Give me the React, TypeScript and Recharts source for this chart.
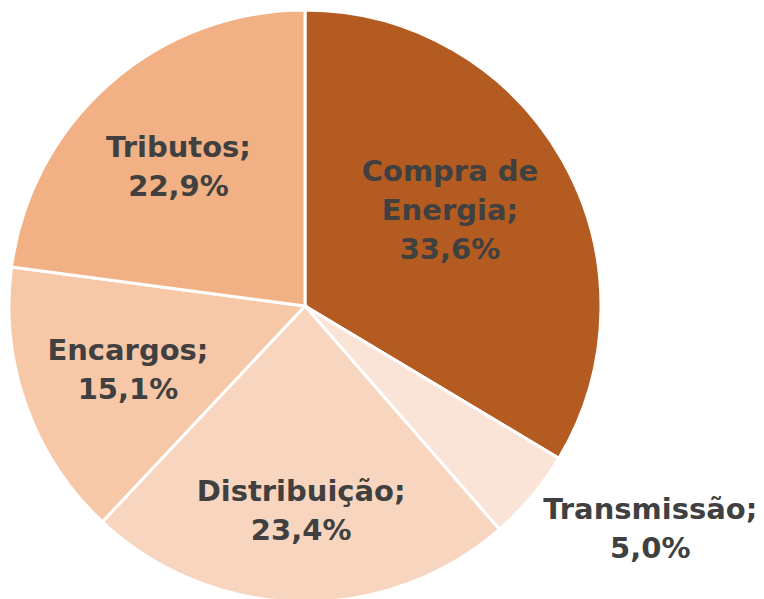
import React from 'react';
import { PieChart, Pie, Cell } from 'recharts';

const categories = ['Compra de Energia', 'Transmissão', 'Distribuição', 'Encargos', 'Tributos'];
const shares = [33.6, 5.0, 23.4, 15.1, 22.9];

const COLORS = ['#B35B21', '#FAE4D7', '#F8D5BE', '#F6C8A8', '#F2B085'];
const LABEL_RADIUS = [0.59, 1.2, 0.69, 0.635, 0.633];
const LABEL_SHIFT: Record<number, [number, number]> = { 0: [-7, -10], 1: [73, -6], 4: [-3, 1] };
const RADIAN = Math.PI / 180;

const data = categories.map((name, i) => ({ name, value: shares[i] }));

const splitName = (name: string): string[] => {
    const words = name.split(' ');
    if (words.length > 2) return [words.slice(0, 2).join(' '), words.slice(2).join(' ') + ';'];
    return [name + ';'];
};

const renderLabel = (props: any) => {
    const { cx, cy, midAngle, outerRadius, index, name, value } = props;
    const r = outerRadius * LABEL_RADIUS[index];
    const shift = LABEL_SHIFT[index] || [0, 0];
    const x = cx + r * Math.cos(-midAngle * RADIAN) + shift[0];
    const y = cy + r * Math.sin(-midAngle * RADIAN) + shift[1];
    const lines = [...splitName(name), value.toFixed(1).replace('.', ',') + '%'];
    const lh = 39;
    const y0 = y - ((lines.length - 1) * lh) / 2;
    return (
        <text
            x={x}
            y={y0}
            textAnchor="middle"
            dominantBaseline="central"
            fill="#404040"
            fontFamily="'DejaVu Sans', sans-serif"
            fontWeight="bold"
            fontSize={29}
        >
            {lines.map((line, i) => (
                <tspan key={i} x={x} dy={i === 0 ? 0 : lh}>
                    {line}
                </tspan>
            ))}
        </text>
    );
};

export default function App() {
    return (
        <div style={{ position: 'absolute', left: 0, top: 0, width: 764, height: 599 }}>
            <PieChart width={764} height={599}>
                <Pie
                    data={data}
                    dataKey="value"
                    nameKey="name"
                    cx={300}
                    cy={301}
                    outerRadius={296}
                    startAngle={90}
                    endAngle={-270}
                    stroke="#FFFFFF"
                    strokeWidth={3}
                    label={renderLabel}
                    labelLine={false}
                    isAnimationActive={false}
                >
                    {data.map((d, i) => (
                        <Cell key={d.name} fill={COLORS[i]} />
                    ))}
                </Pie>
            </PieChart>
        </div>
    );
}
